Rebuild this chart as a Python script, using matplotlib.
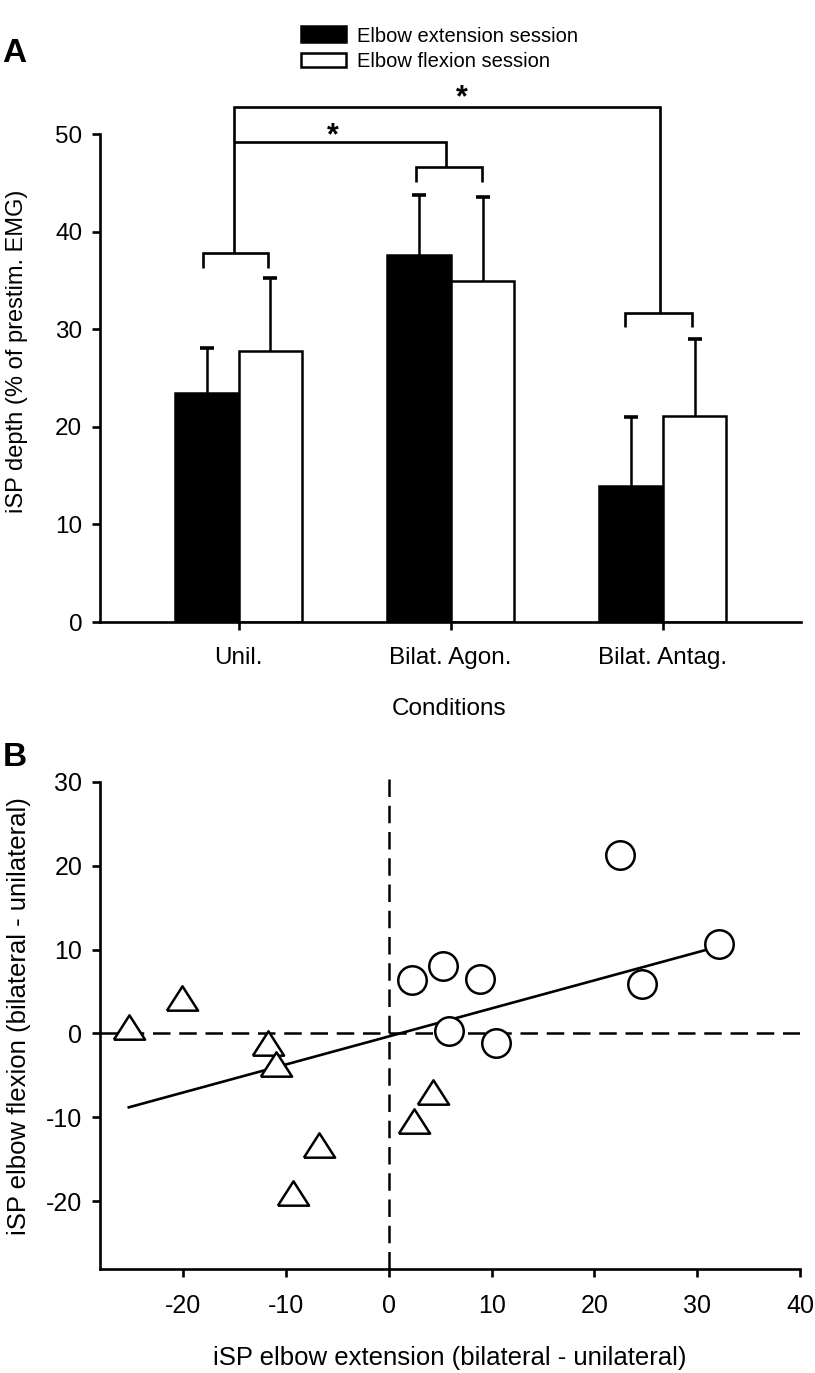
import matplotlib
matplotlib.use("Agg")
import matplotlib.pyplot as plt
from matplotlib.patches import Rectangle
import numpy as np

plt.rcParams['font.family'] = ['Liberation Sans', 'DejaVu Sans']
plt.rcParams['axes.unicode_minus'] = False

# ---------------- data: panel A ----------------
conditions = ["Unil.", "Bilat. Agon.", "Bilat. Antag."]
ext_mean = [23.5, 37.6, 13.9]
ext_sd = [4.6, 6.1, 7.1]
flex_mean = [27.8, 34.9, 21.1]
flex_sd = [7.4, 8.6, 7.9]
series_labels = ["Elbow extension session", "Elbow flexion session"]
yticks_A = [0, 10, 20, 30, 40, 50]

# ---------------- data: panel B ----------------
circ_x = [22.5, 32.1, 24.65, 2.28, 5.3, 8.9, 5.85, 10.4]
circ_y = [21.3, 10.7, 5.87, 6.35, 8.05, 6.5, 0.3, -1.1]
tri_x = [-25.3, -20.1, -11.75, -11.0, 4.3, 2.45, -6.8, -9.3]
tri_y = [0.73, 4.2, -1.1, -3.6, -6.97, -10.4, -13.3, -19.0]
fit_slope = 0.334
fit_intercept = -0.35
xticks_B = [-20, -10, 0, 10, 20, 30, 40]
yticks_B = [-20, -10, 0, 10, 20, 30]

W, H = 815, 1373
def fx(px):
    return px / W
def fy(py):
    return 1 - py / H

fig = plt.figure(figsize=(W / 100, H / 100), dpi=100)
LW = 1.9

# ================= Panel A =================
axA = fig.add_axes([fx(100), fy(622), (801 - 100) / W, (622 - 134) / H])
x = np.arange(len(conditions))
bw = 0.3
axA.bar(x - bw / 2, ext_mean, bw, color='black', edgecolor='black', linewidth=1.8, zorder=2)
axA.bar(x + bw / 2, flex_mean, bw, color='white', edgecolor='black', linewidth=1.8, zorder=2)
for off, m, sd in [(-bw / 2, ext_mean, ext_sd), (bw / 2, flex_mean, flex_sd)]:
    m = np.asarray(m)
    sd = np.asarray(sd)
    axA.errorbar(x + off, m, yerr=[np.zeros(3), sd], fmt='none', ecolor='black',
                 elinewidth=1.8, capsize=0, zorder=1)
    axA.plot(x + off, m + sd, linestyle='none', marker='_', markersize=10,
             markeredgewidth=2.6, color='black', zorder=1)

axA.set_xlim(-0.654, 2.652)
axA.set_ylim(0, 50)
axA.set_yticks(yticks_A)
axA.set_xticks(x)
axA.set_xticklabels(conditions)
for s in ['top', 'right']:
    axA.spines[s].set_visible(False)
for s in ['left', 'bottom']:
    axA.spines[s].set_linewidth(LW)
axA.tick_params(axis='both', direction='out', length=5.8, width=LW, labelsize=17.5)
axA.tick_params(axis='y', pad=7.0)
axA.tick_params(axis='x', pad=12.3)

# significance brackets
def bl(xs, ys):
    axA.plot(xs, ys, color='black', lw=1.9, clip_on=False, solid_capstyle='butt',
             solid_joinstyle='miter', zorder=3)

bl([-0.17, -0.17, 0.14, 0.14], [36.3, 37.8, 37.8, 36.3])       # Unil. pair
bl([0.835, 0.835, 1.149, 1.149], [45.1, 46.65, 46.65, 45.1])   # Agon. pair
bl([1.82, 1.82, 2.137, 2.137], [30.2, 31.7, 31.7, 30.2])       # Antag. pair
bl([-0.02, -0.02, 0.978, 0.978], [37.8, 49.2, 49.2, 46.65])    # Unil vs Agon
bl([-0.02, -0.02, 1.985, 1.985], [49.2, 52.8, 52.8, 31.7])     # Unil vs Antag
axA.text(0.443, 48.9, "*", ha='center', va='baseline', fontsize=22, fontweight='bold',
         clip_on=False)
axA.text(1.05, 52.8, "*", ha='center', va='baseline', fontsize=22, fontweight='bold',
         clip_on=False)

# legend (manual)
fig.add_artist(Rectangle((fx(300.7), fy(42.3)), 45.3 / W, 16.3 / H, transform=fig.transFigure,
                         facecolor='black', edgecolor='black', linewidth=1.8))
fig.add_artist(Rectangle((fx(300.7), fy(67.3)), 45.3 / W, 14.6 / H, transform=fig.transFigure,
                         facecolor='white', edgecolor='black', linewidth=1.8))
fig.text(fx(357.3), fy(41.7), series_labels[0], fontsize=14.5, ha='left', va='baseline')
fig.text(fx(357.3), fy(67.3), series_labels[1], fontsize=14.5, ha='left', va='baseline')

fig.text(fx(17.5), fy(351), "iSP depth (% of prestim. EMG)", rotation=90,
         ha='center', va='center', fontsize=17)
fig.text(fx(449), fy(715), "Conditions", ha='center', va='baseline', fontsize=17.5)
fig.text(fx(2), fy(62), "A", ha='left', va='baseline', fontsize=24, fontweight='bold')

# ================= Panel B =================
axB = fig.add_axes([fx(100), fy(1269.3), 700 / W, (1269.3 - 781.7) / H])
axB.set_xlim(-28.1, 40)
axB.set_ylim(-28.1, 30)
dash = (0, (7.0, 3.5))
axB.axhline(0, color='black', lw=1.8, linestyle=dash, zorder=1)
axB.axvline(0, ymin=0, ymax=1.007, color='black', lw=1.8, linestyle=dash, zorder=1, clip_on=False)

all_x = np.array(circ_x + tri_x)
xl = np.array([all_x.min(), all_x.max()])
axB.plot(xl, fit_slope * xl + fit_intercept, color='black', lw=1.9, zorder=2)

tri_marker = [(-1, -0.78), (1, -0.78), (0, 0.78), (-1, -0.78)]
axB.plot(tri_x, tri_y, linestyle='none', marker=tri_marker, markersize=22.5,
         markerfacecolor='white', markeredgecolor='black', markeredgewidth=1.8, zorder=3)
axB.plot(circ_x, circ_y, linestyle='none', marker='o', markersize=20.5,
         markerfacecolor='white', markeredgecolor='black', markeredgewidth=1.8, zorder=3)

axB.set_xticks(xticks_B)
axB.set_yticks(yticks_B)
for s in ['top', 'right']:
    axB.spines[s].set_visible(False)
for s in ['left', 'bottom']:
    axB.spines[s].set_linewidth(LW)
axB.tick_params(axis='both', direction='out', length=5.8, width=LW, labelsize=18)
axB.tick_params(axis='y', pad=7.0)
axB.tick_params(axis='x', pad=12.0)

fig.text(fx(19), fy(1016), "iSP elbow flexion (bilateral - unilateral)", rotation=90,
         ha='center', va='center', fontsize=18.5)
fig.text(fx(450), fy(1365), "iSP elbow extension (bilateral - unilateral)",
         ha='center', va='baseline', fontsize=18.5)
fig.text(fx(3), fy(766), "B", ha='left', va='baseline', fontsize=24, fontweight='bold')

fig.savefig("out.png", dpi=100)
